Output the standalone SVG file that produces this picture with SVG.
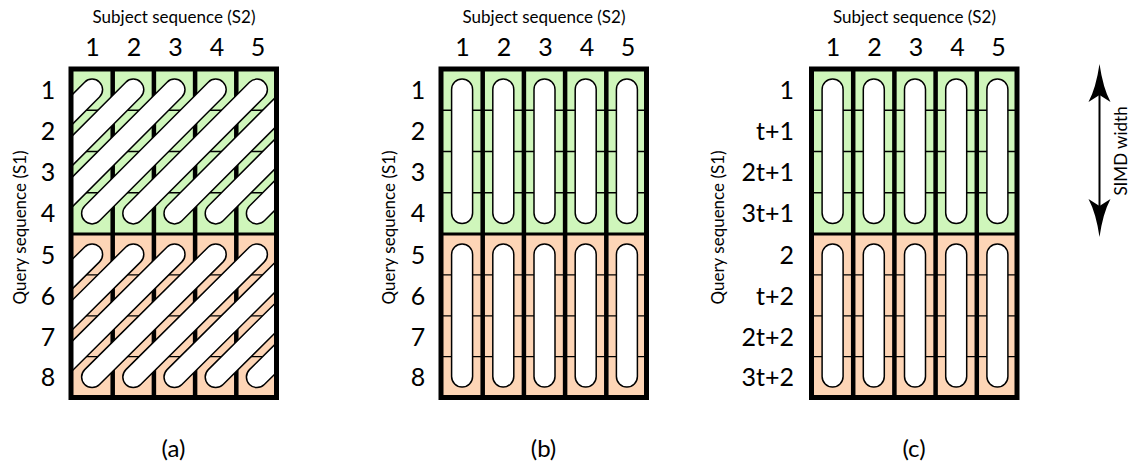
<svg xmlns="http://www.w3.org/2000/svg" xmlns:xlink="http://www.w3.org/1999/xlink" width="1130" height="470" viewBox="0 0 1130 470">
<style>
.g{fill:#cff6bb}
.o{fill:#fdd5b6}
.row{stroke:#000;stroke-width:1.3}
.sep{stroke:#000;stroke-width:4.5}
.brd{fill:none;stroke:#000;stroke-width:5}
.mid{stroke:#000;stroke-width:3}
.cap{fill:#fff;stroke:#000;stroke-width:1.5}
.so{fill:none;stroke:#000;stroke-width:22.5;stroke-linecap:round}
.si{fill:none;stroke:#fff;stroke-width:19.5;stroke-linecap:round}
text{font-family:Lato,"Open Sans","DejaVu Sans",sans-serif;fill:#000}
.t17{font-size:17px}
.num{font-size:25px;text-anchor:middle}
.rl{font-size:25px;text-anchor:end}
.cap22{font-size:24px;text-anchor:middle}
</style>
<defs>
<clipPath id="clipG"><rect x="71" y="69" width="206" height="165"/></clipPath>
<clipPath id="clipO"><rect x="71" y="234" width="206" height="163.5"/></clipPath>
<path id="stripesG" d="M-31.5,213.4L92.1,89.6M9.7,213.4L133.3,89.6M50.9,213.4L174.5,89.6M92.1,213.4L215.7,89.6M133.3,213.4L256.9,89.6M174.5,213.4L298.1,89.6M215.7,213.4L339.3,89.6M256.9,213.4L380.5,89.6"/>
<path id="stripesO" d="M-31.5,377.1L92.1,254.4M9.7,377.1L133.3,254.4M50.9,377.1L174.5,254.4M92.1,377.1L215.7,254.4M133.3,377.1L256.9,254.4M174.5,377.1L298.1,254.4M215.7,377.1L339.3,254.4M256.9,377.1L380.5,254.4"/>
<g id="base">
<rect class="g" x="71" y="69" width="206" height="165"/>
<rect class="o" x="71" y="234" width="206" height="163.5"/>
<path class="row" d="M71,110.25H277M71,151.5H277M71,192.75H277M71,274.9H277M71,315.8H277M71,356.6H277"/>
<path class="sep" d="M112.7,69V397.5M153.9,69V397.5M195.1,69V397.5M236.3,69V397.5"/>
</g>
<g id="frame">
<rect class="brd" x="71" y="69" width="205.5" height="328.5"/>
<line class="mid" x1="71" y1="234" x2="276.5" y2="234"/>
</g>
<g id="caps">
<rect class="cap" x="81.6" y="79" width="21" height="144.5" rx="10.5"/>
<rect class="cap" x="122.8" y="79" width="21" height="144.5" rx="10.5"/>
<rect class="cap" x="164" y="79" width="21" height="144.5" rx="10.5"/>
<rect class="cap" x="205.2" y="79" width="21" height="144.5" rx="10.5"/>
<rect class="cap" x="246.4" y="79" width="21" height="144.5" rx="10.5"/>
<rect class="cap" x="81.6" y="244" width="21" height="143" rx="10.5"/>
<rect class="cap" x="122.8" y="244" width="21" height="143" rx="10.5"/>
<rect class="cap" x="164" y="244" width="21" height="143" rx="10.5"/>
<rect class="cap" x="205.2" y="244" width="21" height="143" rx="10.5"/>
<rect class="cap" x="246.4" y="244" width="21" height="143" rx="10.5"/>
</g>
<g id="head">
<text class="t17" x="174" y="23" text-anchor="middle">Subject sequence (S2)</text>
<text class="num" x="92.5" y="56">1</text>
<text class="num" x="134" y="56">2</text>
<text class="num" x="175.5" y="56">3</text>
<text class="num" x="217" y="56">4</text>
<text class="num" x="258" y="56">5</text>
</g>
</defs>

<g id="panel-a">
<use xlink:href="#base"/>
<g clip-path="url(#clipG)">
<use xlink:href="#stripesG" class="so"/>
<use xlink:href="#stripesG" class="si"/>
</g>
<g clip-path="url(#clipO)">
<use xlink:href="#stripesO" class="so"/>
<use xlink:href="#stripesO" class="si"/>
</g>
<use xlink:href="#frame"/>
<use xlink:href="#head"/>
<text class="t17" transform="translate(25.5,227.5) rotate(-90)" text-anchor="middle">Query sequence (S1)</text>
<g class="num">
<text x="48" y="98.5">1</text>
<text x="48" y="140">2</text>
<text x="48" y="181">3</text>
<text x="48" y="222">4</text>
<text x="48" y="263.5">5</text>
<text x="48" y="304.5">6</text>
<text x="48" y="345.5">7</text>
<text x="48" y="386">8</text>
</g>
<text class="cap22" x="173.5" y="457">(a)</text>
</g>

<g id="panel-b">
<g transform="translate(370,0)">
<use xlink:href="#base"/>
<use xlink:href="#caps"/>
<use xlink:href="#frame"/>
<use xlink:href="#head"/>
</g>
<text class="t17" transform="translate(394.5,227.5) rotate(-90)" text-anchor="middle">Query sequence (S1)</text>
<g class="num">
<text x="418" y="98.5">1</text>
<text x="418" y="140">2</text>
<text x="418" y="181">3</text>
<text x="418" y="222">4</text>
<text x="418" y="263.5">5</text>
<text x="418" y="304.5">6</text>
<text x="418" y="345.5">7</text>
<text x="418" y="386">8</text>
</g>
<text class="cap22" x="543.5" y="457">(b)</text>
</g>

<g id="panel-c">
<g transform="translate(740.5,0)">
<use xlink:href="#base"/>
<use xlink:href="#caps"/>
<use xlink:href="#frame"/>
<use xlink:href="#head"/>
</g>
<text class="t17" transform="translate(724,227.5) rotate(-90)" text-anchor="middle">Query sequence (S1)</text>
<g class="rl">
<text x="794" y="98.5">1</text>
<text x="794" y="140">t+1</text>
<text x="794" y="181">2t+1</text>
<text x="794" y="222">3t+1</text>
<text x="794" y="263.5">2</text>
<text x="794" y="304.5">t+2</text>
<text x="794" y="345.5">2t+2</text>
<text x="794" y="386">3t+2</text>
</g>
<text class="cap22" x="914" y="457">(c)</text>
</g>

<g id="simd-arrow">
<line x1="1099.5" y1="94" x2="1099.5" y2="207" stroke="#000" stroke-width="2"/>
<path d="M1099.5,64Q1103,88 1110.5,102L1099.5,95L1088.5,102Q1096,88 1099.5,64Z" fill="#000"/>
<path d="M1099.5,237Q1103,213 1110.5,199L1099.5,206L1088.5,199Q1096,213 1099.5,237Z" fill="#000"/>
<text class="t17" transform="translate(1127,151) rotate(-90)" text-anchor="middle">SIMD width</text>
</g>
</svg>
